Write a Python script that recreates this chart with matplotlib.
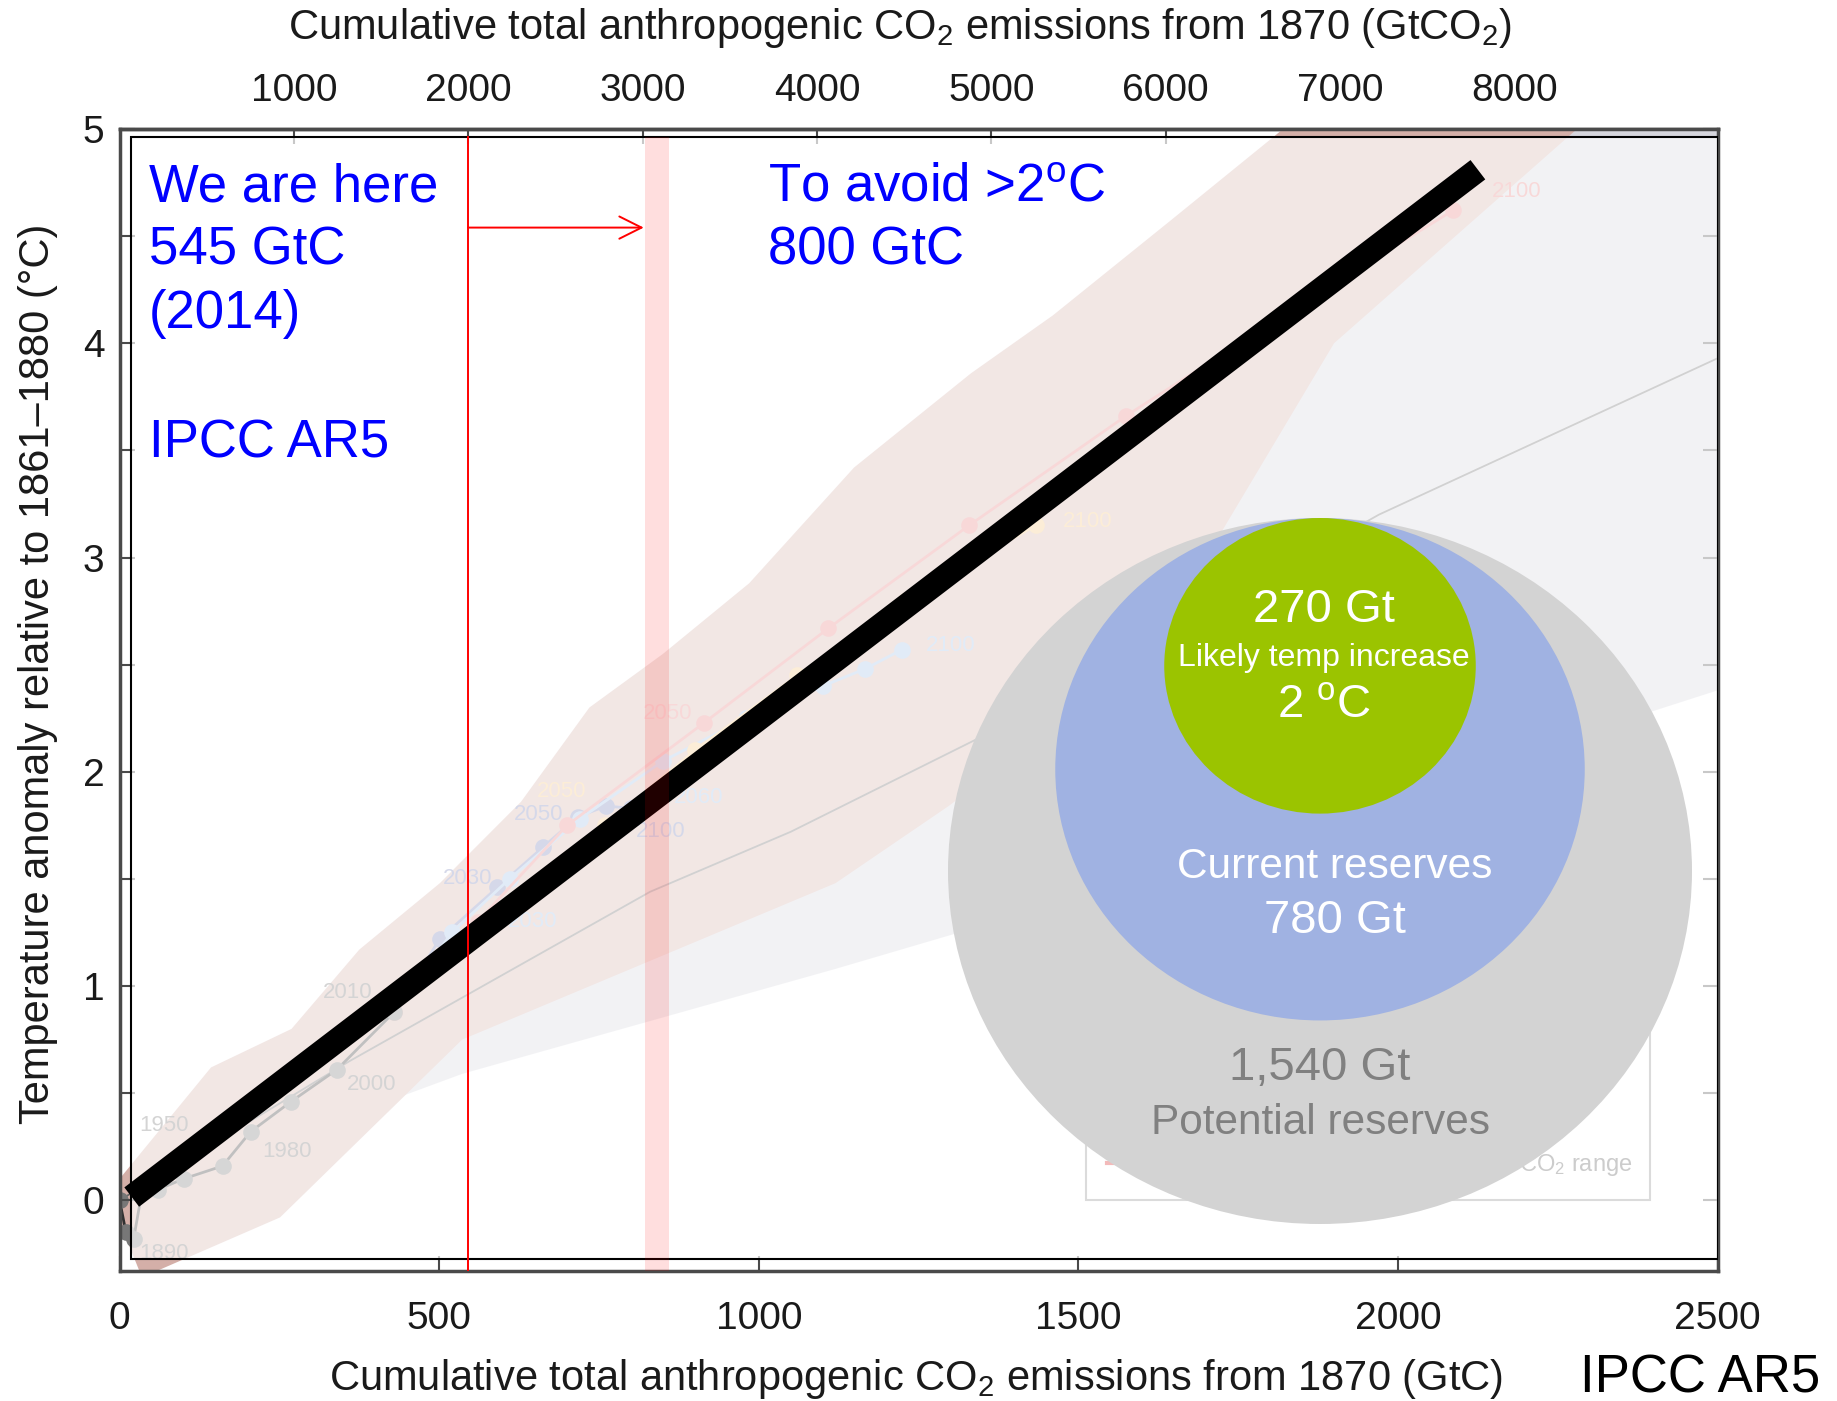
import numpy as np
import matplotlib
matplotlib.use("Agg")
import matplotlib.pyplot as plt
from matplotlib.patches import Rectangle, Ellipse, Polygon

plt.rcParams['font.family'] = ['Liberation Sans', 'DejaVu Sans']
plt.rcParams['mathtext.fontset'] = 'custom'
plt.rcParams['mathtext.rm'] = 'Liberation Sans'
plt.rcParams['mathtext.it'] = 'Liberation Sans:italic'
plt.rcParams['mathtext.bf'] = 'Liberation Sans:bold'

# ---------------------------------------------------------------- data
# Axis ticks
x_ticks = [0, 500, 1000, 1500, 2000, 2500]
y_ticks = [0, 1, 2, 3, 4, 5]
co2_ticks = [1000, 2000, 3000, 4000, 5000, 6000, 7000, 8000, 9000]
co2_labels = ['1000', '2000', '3000', '4000', '5000', '6000', '7000', '8000', '']

# Historical observations (GtC, degC)
hist_gtc = [0, 10, 22, 35, 60, 100, 161, 205, 268, 340, 430]
hist_temp = [0.0, -0.15, -0.18, 0.04, 0.05, 0.10, 0.16, 0.32, 0.46, 0.61, 0.88]

# RCP scenario means (GtC, degC)
rcp26_gtc = [430, 501, 591, 663, 717, 761, 800]
rcp26_temp = [0.88, 1.22, 1.46, 1.65, 1.79, 1.84, 1.83]
rcp45_gtc = [430, 520, 610, 720, 850, 980, 1100, 1166, 1224]
rcp45_temp = [0.88, 1.25, 1.50, 1.78, 2.05, 2.25, 2.40, 2.48, 2.57]
rcp60_gtc = [430, 530, 640, 760, 900, 1060, 1230, 1433]
rcp60_temp = [0.88, 1.20, 1.45, 1.75, 2.10, 2.45, 2.80, 3.15]
rcp85_gtc = [430, 560, 700, 915, 1109, 1329, 1574, 1830, 2086]
rcp85_temp = [0.88, 1.30, 1.75, 2.23, 2.67, 3.15, 3.66, 4.15, 4.62]

# 1% per year CO2 runs: mean line and range
pct_gtc = [0, 360, 830, 1050, 1400, 1970, 2500]
pct_temp = [0.0, 0.65, 1.44, 1.72, 2.24, 3.20, 3.93]
pct_lo_gtc = [0, 536, 1120, 1405, 2500]
pct_lo_temp = [0.0, 0.59, 1.08, 1.33, 2.38]
pct_hi_gtc = [0, 500, 1000, 1770, 2280, 2600]
pct_hi_temp = [0.0, 1.10, 2.20, 3.88, 5.00, 5.20]

# RCP range (upper edge left to right, then lower/right edge back to the origin)
rcp_hi_gtc = [0, 143, 269, 375, 501, 628, 735, 850, 985, 1149, 1332, 1460, 1643, 1808, 1900, 2380]
rcp_hi_temp = [0.10, 0.62, 0.80, 1.17, 1.48, 1.86, 2.30, 2.55, 2.88, 3.42, 3.86, 4.13, 4.57, 4.97, 5.20, 5.20]
rcp_lo_gtc = [2280, 1900, 1700, 1500, 1297, 1120, 536, 251, 35, 0]
rcp_lo_temp = [5.00, 4.00, 3.00, 2.30, 1.84, 1.48, 0.75, -0.08, -0.36, -0.10]

# Year labels along the pathways
yr_text = ['1890', '1950', '1980', '2000', '2010', '2030', '2050', '2100',
           '2030', '2060', '2100', '2050', '2100', '2050', '2100']
yr_gtc = [70, 70, 262, 395, 357, 545, 655, 847, 646, 906, 1300, 692, 1515, 857, 2185]
yr_temp = [-0.25, 0.35, 0.23, 0.54, 0.97, 1.50, 1.80, 1.72, 1.30, 1.88, 2.59, 1.91, 3.17, 2.27, 4.71]
yr_color = ['#707070'] * 5 + ['#7480b8'] * 3 + ['#9dbfe6'] * 3 + ['#f5c47a'] * 2 + ['#e88080'] * 2

# Emission markers (GtC)
emitted_2014 = 545
budget_2c = 800
budget_band = (822, 860)

# Simple warming trend drawn over the chart
trend_gtc = [19, 2125]
trend_temp = [0.015, 4.81]

# Fossil carbon reserves (Gt)
reserve_values = [1540, 780, 270]
reserve_colors = ['#d3d3d3', '#a0b2e2', '#9bc400']

# ---------------------------------------------------------------- figure
fig = plt.figure(figsize=(18.37, 14.01), dpi=100)
ax = fig.add_axes([0.0651, 0.0928, 0.8699, 0.8151])
ax.set_xlim(0, 2500)
ax.set_ylim(-0.33, 5.0)

frame_col = '#4a4a4a'
for s in ax.spines.values():
    s.set_color(frame_col)
    s.set_linewidth(2.5)

ax.set_xticks(x_ticks)
ax.set_yticks(y_ticks)
ax.set_yticks(np.arange(0.0, 5.0, 0.5), minor=True)
ax.tick_params(axis='both', which='both', direction='in', color=frame_col,
               width=1.5, length=11, labelsize=28, labelcolor='#1a1a1a',
               right=True, top=False)
ax.tick_params(axis='x', pad=21.5)
ax.tick_params(axis='y', pad=11)

conv = 44.0 / 12.0
sec = ax.secondary_xaxis('top', functions=(lambda v: v * conv, lambda v: v / conv))
sec.set_xticks(co2_ticks, labels=co2_labels)
sec.tick_params(direction='in', color=frame_col, width=1.5, length=11,
                labelsize=28, labelcolor='#1a1a1a', pad=14.7)
sec.spines['top'].set_color(frame_col)
sec.spines['top'].set_linewidth(2.5)

# ---- background: AR5 cumulative-emissions chart
ax.add_patch(Polygon(np.column_stack([pct_lo_gtc + pct_hi_gtc[::-1],
                                      pct_lo_temp + pct_hi_temp[::-1]]),
                     closed=True, fc='#d6d6dd', ec='none', zorder=1))
ax.add_patch(Polygon(np.column_stack([rcp_hi_gtc + rcp_lo_gtc,
                                      rcp_hi_temp + rcp_lo_temp]),
                     closed=True, fc='#d4afa8', ec='none', zorder=1.1))
ax.plot(pct_gtc, pct_temp, color='#666666', lw=1.3, zorder=1.3)

ax.add_patch(Rectangle((1512, 0.0), 882, 0.79, fc='white', ec='#888888', lw=1.5, zorder=1.2))
ax.plot([1545, 1580], [0.175, 0.175], color='#d7191c', lw=3, zorder=1.3)
ax.text(2366, 0.164, 'CO$_2$ range', ha='right', va='center', fontsize=17,
        color='#555555', zorder=1.3)

for gx, gy, col in [(rcp26_gtc, rcp26_temp, '#7480b8'),
                    (rcp45_gtc, rcp45_temp, '#9dbfe6'),
                    (rcp60_gtc, rcp60_temp, '#f5c47a'),
                    (rcp85_gtc, rcp85_temp, '#e88080')]:
    ax.plot(gx, gy, color=col, lw=2, marker='o', ms=12, mec='none', zorder=1.4)
ax.plot(hist_gtc, hist_temp, color='#303030', lw=2, marker='o', ms=12,
        mfc='#777777', mec='none', zorder=1.5)

for t, gx, gy, col in zip(yr_text, yr_gtc, yr_temp, yr_color):
    ax.text(gx, gy, t, ha='center', va='center', fontsize=16, color=col, zorder=1.6)

# ---- translucent panel laid over the background chart
ax.add_patch(Rectangle((18, -0.275), 2500 - 18, 4.965 + 0.275,
                       fc=(1, 1, 1, 0.70), ec='black', lw=1.5, zorder=3))

# ---- overlay marks
ax.plot(trend_gtc, trend_temp, color='black', lw=17.5, solid_capstyle='butt', zorder=4)
ax.plot([emitted_2014, emitted_2014], [-0.33, 4.965], color='red', lw=1.4, zorder=5)
ax.annotate('', xy=(budget_band[0] - 2, 4.54), xytext=(emitted_2014, 4.54),
            arrowprops=dict(arrowstyle='->', color='red', lw=1.4,
                            mutation_scale=40, shrinkA=0, shrinkB=0), zorder=5)
ax.add_patch(Rectangle((budget_band[0], -0.33), budget_band[1] - budget_band[0],
                       4.965 + 0.33, fc='red', alpha=0.13, lw=0, zorder=6))

blue_kw = dict(color='blue', fontsize=38, va='baseline', ha='left', zorder=7)
ax.text(46, 4.66, 'We are here', **blue_kw)
ax.text(46, 4.366, f'{emitted_2014} GtC', **blue_kw)
ax.text(46, 4.07, '(2014)', **blue_kw)
ax.text(46, 3.468, 'IPCC AR5', **blue_kw)
ax.text(1015, 4.66, r'To avoid >2$^{\mathrm{o}}$C', **blue_kw)
ax.text(1015, 4.366, f'{budget_2c} GtC', **blue_kw)

# ---- axis titles
title_kw = dict(fontsize=30, color='#1a1a1a', ha='center', va='center')
fig.text(0.490, 0.9800, 'Cumulative total anthropogenic CO$_2$ emissions from 1870 (GtCO$_2$)', **title_kw)
fig.text(0.4986, 0.0160, 'Cumulative total anthropogenic CO$_2$ emissions from 1870 (GtC)', **title_kw)
fig.text(0.0205, 0.519, 'Temperature anomaly relative to 1861\u20131880 (\u00b0C)', rotation=90, **title_kw)
fig.text(0.9254, 0.0160, 'IPCC AR5', fontsize=38, color='black', ha='center', va='center')

# ---- nested reserve circles (area proportional to reserves)
cax = fig.add_axes([948 / 1837, 1 - 1224 / 1401, 744 / 1837, 706 / 1401])
cax.set_xlim(-1, 1)
cax.set_ylim(-1, 1)
cax.axis('off')
r_max = np.sqrt(max(reserve_values))
for v, c in zip(reserve_values, reserve_colors):
    r = np.sqrt(v) / r_max
    cax.add_patch(Ellipse((0, 1 - r), 2 * r, 2 * r, fc=c, ec='none'))

cax.text(0.01, 0.740, f'{reserve_values[2]} Gt', color='white', fontsize=34, ha='center', va='center')
cax.text(0.01, 0.604, 'Likely temp increase', color='white', fontsize=23, ha='center', va='center')
cax.text(0.01, 0.468, r'2 $^{\mathrm{o}}$C', color='white', fontsize=34, ha='center', va='center')
cax.text(0.04, 0.012, 'Current reserves', color='white', fontsize=30.5, ha='center', va='center')
cax.text(0.04, -0.141, f'{reserve_values[1]} Gt', color='white', fontsize=34, ha='center', va='center')
cax.text(0.0, -0.558, f'{reserve_values[0]:,} Gt', color='#808080', fontsize=34, ha='center', va='center')
cax.text(0.0, -0.714, 'Potential reserves', color='#808080', fontsize=30.5, ha='center', va='center')

fig.savefig('out.png', dpi=100, facecolor='white')
